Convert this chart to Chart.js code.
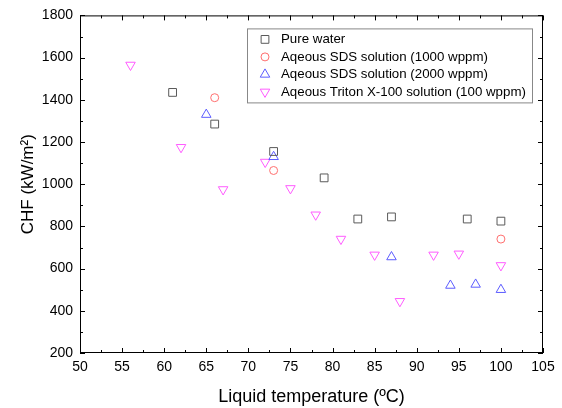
<!DOCTYPE html>
<html lang="en">
<head>
    <meta charset="UTF-8">
    <title>CHF vs liquid temperature</title>
    <script src="https://cdn.jsdelivr.net/npm/chart.js"></script>
    <style>
      body { margin: 0; background: #fff; }
    </style>
</head>
<body>
  <canvas id="chart0" width="562" height="408"></canvas>

  <script>
    /* Data. */
    const waterT = [61, 66, 73, 79, 83, 87, 96, 100]
    const waterCHF = [1435, 1285, 1155, 1030, 835, 845, 835, 825]

    const sds1000T = [66, 73, 100]
    const sds1000CHF = [1410, 1065, 740]

    const sds2000T = [65, 73, 87, 94, 97, 100]
    const sds2000CHF = [1330, 1130, 655, 520, 525, 500]

    const tritonT = [56, 62, 67, 72, 75, 78, 81, 85, 88, 92, 95, 100]
    const tritonCHF = [1565, 1175, 975, 1105, 980, 855, 740, 665, 445, 665, 670, 615]

    const seriesNames = [
      "Pure water",
      "Aqeous SDS solution (1000 wppm)",
      "Aqeous SDS solution (2000 wppm)",
      "Aqeous Triton X-100 solution (100 wppm)"
    ]

    const fontFamily = "'Liberation Sans', Arial, sans-serif"

    const toPoints = (xs, ys) => xs.map((x, i) => ({ x: x, y: ys[i] }))

    /* Frame with inward ticks on all four sides. */
    const framePlugin = {
      id: "frame",
      afterDraw(chart) {
        const ctx = chart.ctx
        const area = chart.chartArea
        const xs = chart.scales.x
        const ys = chart.scales.y
        ctx.save()
        ctx.strokeStyle = "#000"
        ctx.lineWidth = 1
        ctx.strokeRect(area.left + 0.5, area.top + 0.5, area.right - area.left - 1, area.bottom - area.top - 1)
        ctx.beginPath()
        for (let v = xs.min; v <= xs.max + 0.01; v += 2.5) {
          const px = Math.round(xs.getPixelForValue(v)) + 0.5
          const len = (v % 5 === 0) ? 5 : 3
          ctx.moveTo(px, area.bottom); ctx.lineTo(px, area.bottom - len)
          ctx.moveTo(px, area.top); ctx.lineTo(px, area.top + len)
        }
        for (let v = ys.min; v <= ys.max + 0.01; v += 100) {
          const py = Math.round(ys.getPixelForValue(v)) + 0.5
          const len = (v % 200 === 0) ? 5 : 3
          ctx.moveTo(area.left, py); ctx.lineTo(area.left + len, py)
          ctx.moveTo(area.right, py); ctx.lineTo(area.right - len, py)
        }
        ctx.stroke()
        ctx.restore()
      }
    }

    /* Boxed legend inside the plot area, top right. */
    const legendPlugin = {
      id: "boxLegend",
      afterDraw(chart) {
        const ctx = chart.ctx
        const area = chart.chartArea
        const boxW = 285
        const boxH = 74
        const left = area.right - 11 - boxW
        const top = area.top + 13
        ctx.save()
        ctx.fillStyle = "#fff"
        ctx.fillRect(left, top, boxW, boxH)
        ctx.strokeStyle = "#888"
        ctx.lineWidth = 1
        ctx.strokeRect(left + 0.5, top + 0.5, boxW, boxH)
        ctx.font = "13.3px " + fontFamily
        ctx.textBaseline = "middle"
        chart.data.datasets.forEach((ds, i) => {
          const y = top + 11 + i * 17.5
          const opts = {
            pointStyle: ds.pointStyle,
            radius: ds.pointRadius,
            rotation: ds.rotation || 0,
            borderWidth: 1
          }
          ctx.strokeStyle = ds.borderColor
          ctx.fillStyle = "rgba(0,0,0,0)"
          ctx.lineWidth = 1
          Chart.helpers.drawPoint(ctx, opts, left + 18, y)
          ctx.fillStyle = "#000"
          ctx.fillText(ds.label, left + 34, y)
        })
        ctx.restore()
      }
    }

    const ctx0 = document.getElementById("chart0").getContext("2d")
    const myChart0 = new Chart(ctx0, {
      type: "scatter",
      data: {
        datasets: [{
          label: seriesNames[0],
          data: toPoints(waterT, waterCHF),
          pointStyle: "rect",
          pointRadius: 5.5,
          borderColor: "#5a5a5a",
          backgroundColor: "rgba(0,0,0,0)",
          borderWidth: 1
        }, {
          label: seriesNames[1],
          data: toPoints(sds1000T, sds1000CHF),
          pointStyle: "circle",
          pointRadius: 4,
          borderColor: "#ff6f6f",
          backgroundColor: "rgba(0,0,0,0)",
          borderWidth: 1
        }, {
          label: seriesNames[2],
          data: toPoints(sds2000T, sds2000CHF),
          pointStyle: "triangle",
          pointRadius: 5.5,
          borderColor: "#5c5cff",
          backgroundColor: "rgba(0,0,0,0)",
          borderWidth: 1
        }, {
          label: seriesNames[3],
          data: toPoints(tritonT, tritonCHF),
          pointStyle: "triangle",
          pointRadius: 5.5,
          rotation: 180,
          pointRotation: 180,
          borderColor: "#ff5cff",
          backgroundColor: "rgba(0,0,0,0)",
          borderWidth: 1
        }]
      },
      options: {
        responsive: false,
        animation: false,
        devicePixelRatio: 1,
        layout: { padding: { top: 15, right: 19, left: 0, bottom: 0 } },
        plugins: {
          legend: { display: false },
          tooltip: { enabled: false }
        },
        scales: {
          x: {
            type: "linear",
            min: 50,
            max: 105,
            grid: { display: false, drawTicks: false },
            border: { display: false },
            ticks: {
              stepSize: 5,
              padding: 6,
              color: "#000",
              maxRotation: 0,
              callback: v => String(v),
              font: { family: fontFamily, size: 14 }
            },
            title: {
              display: true,
              text: "Liquid temperature (ºC)",
              color: "#000",
              padding: { top: 2, bottom: 0 },
              font: { family: fontFamily, size: 18 }
            },
            afterFit: scale => { scale.height = 55 }
          },
          y: {
            min: 200,
            max: 1800,
            grid: { display: false, drawTicks: false },
            border: { display: false },
            ticks: {
              stepSize: 200,
              padding: 7,
              color: "#000",
              callback: v => String(v),
              font: { family: fontFamily, size: 14 }
            },
            title: {
              display: true,
              text: "CHF (kW/m²)",
              color: "#000",
              padding: { top: 18, bottom: 2 },
              font: { family: fontFamily, size: 17 }
            },
            afterFit: scale => { scale.width = 80 }
          }
        }
      },
      plugins: [framePlugin, legendPlugin]
    })
  </script>
</body>
</html>
